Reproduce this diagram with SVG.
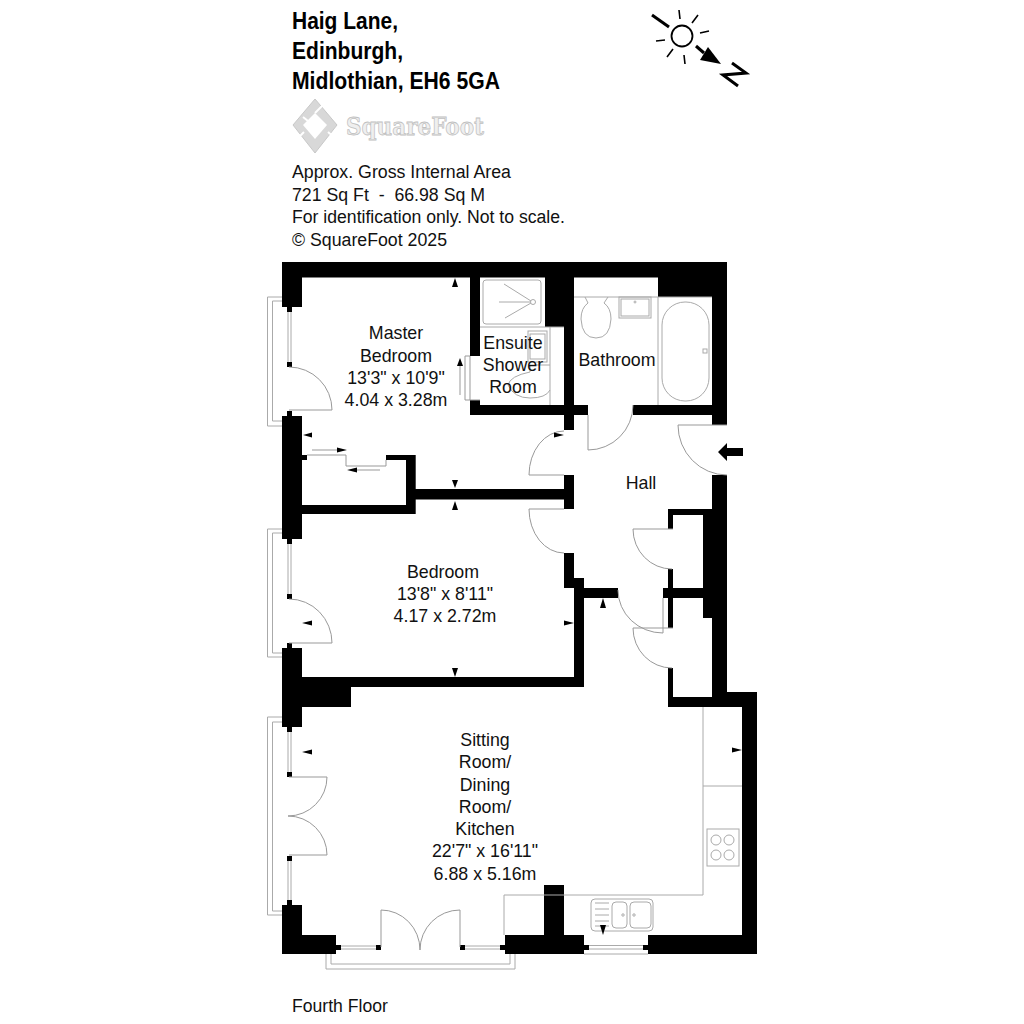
<svg xmlns="http://www.w3.org/2000/svg" width="1024" height="1024" viewBox="0 0 1024 1024">
<style>
text{font-family:"Liberation Sans",Arial,sans-serif;fill:#111}
.t{font-size:23px;font-weight:bold;fill:#000}
.b{font-size:17.6px}
.r{font-size:17.8px;text-anchor:middle}
.w rect{fill:#000}
.l{fill:none;stroke:#aaa;stroke-width:1}
.d{fill:none;stroke:#999;stroke-width:1}
.a{fill:#000}
</style>
<rect width="1024" height="1024" fill="#fff"/>
<g id="header">
<text class="t" x="292" y="29" textLength="106" lengthAdjust="spacingAndGlyphs">Haig Lane,</text>
<text class="t" x="292" y="59" textLength="111" lengthAdjust="spacingAndGlyphs">Edinburgh,</text>
<text class="t" x="292" y="89" textLength="208" lengthAdjust="spacingAndGlyphs">Midlothian, EH6 5GA</text>
<g id="logo">
<path d="M315 99L337 125L315 153L293 125Z" fill="#d8d8d8" stroke="#c8c8c8"/>
<path d="M315 113L327 125L315 139L303 125Z" fill="#fff"/>
<path d="M322 106L315 113M328 132L336 139M304 132L297 139M303 117L308 121" stroke="#fff" stroke-width="2" fill="none"/>
</g>
<text x="346" y="135" font-size="25" font-weight="bold" style="font-family:'DejaVu Serif',serif;fill:#efefef;stroke:#c0c0c0;stroke-width:.8" textLength="138" lengthAdjust="spacingAndGlyphs">SquareFoot</text>
<text class="b" x="292" y="178" textLength="219" lengthAdjust="spacingAndGlyphs">Approx. Gross Internal Area</text>
<text class="b" x="292" y="201" textLength="193" lengthAdjust="spacingAndGlyphs" xml:space="preserve">721 Sq Ft  -  66.98 Sq M</text>
<text class="b" x="292" y="223" textLength="273" lengthAdjust="spacingAndGlyphs">For identification only. Not to scale.</text>
<text class="b" x="292" y="246" textLength="155" lengthAdjust="spacingAndGlyphs">© SquareFoot 2025</text>
</g>
<g id="compass" stroke="#000" fill="none">
<circle cx="682" cy="36" r="10.5" stroke-width="1.8"/>
<path d="M652 15L669 27" stroke-width="3"/>
<path d="M679 10L680 19M698 15L692 23M700 33L709 31M656 41L665 40M667 57L673 49M684 55L685 64" stroke-width="1.6"/>
<path d="M696 46L704 53" stroke-width="3"/>
<path class="a" stroke="none" d="M721 64L700 60L708 47Z"/>
<path d="M732 63L746 73L723 75L738 86" stroke-width="3"/>
</g>
<g id="walls" class="w">
<rect x="282" y="262" width="445" height="15.500"/>
<rect x="282" y="262" width="20" height="45"/>
<rect x="282" y="416" width="20" height="123"/>
<rect x="282" y="648" width="20" height="79"/>
<rect x="282" y="905" width="20" height="49"/>
<rect x="282" y="935" width="54" height="19"/>
<rect x="505" y="935" width="79" height="19"/>
<rect x="648" y="935" width="109" height="19"/>
<rect x="544" y="885" width="20" height="50"/>
<rect x="742" y="692" width="15" height="262"/>
<rect x="712" y="692" width="45" height="15"/>
<rect x="668" y="697" width="60" height="10"/>
<rect x="712" y="262" width="15" height="163"/>
<rect x="712" y="475" width="15" height="220"/>
<rect x="703" y="509" width="15" height="109"/>
<rect x="658" y="262" width="60" height="35"/>
<rect x="668" y="509" width="40" height="6"/>
<rect x="668" y="509" width="5" height="20"/>
<rect x="668" y="569" width="5" height="59"/>
<rect x="663" y="588" width="42" height="10"/>
<rect x="668" y="668" width="5" height="39"/>
<rect x="633" y="405" width="80" height="10"/>
<rect x="470" y="405" width="118" height="10"/>
<rect x="470" y="262" width="10" height="94"/>
<rect x="470" y="400" width="10" height="6"/>
<rect x="564" y="262" width="10" height="168"/>
<rect x="545" y="262" width="29" height="65"/>
<rect x="564" y="475" width="10" height="34"/>
<rect x="415" y="489" width="152" height="10.500"/>
<rect x="406" y="455" width="9.700" height="59"/>
<rect x="386" y="455" width="25" height="5"/>
<rect x="302" y="505" width="113" height="9"/>
<rect x="302" y="455" width="5" height="5"/>
<rect x="564" y="553" width="10" height="35"/>
<rect x="574" y="578" width="10" height="109"/>
<rect x="584" y="588" width="34" height="10"/>
<rect x="302" y="677" width="282" height="10"/>
<rect x="302" y="677" width="49" height="30"/>
<rect x="287" y="307" width="5" height="5"/>
<rect x="287" y="362" width="5" height="5"/>
<rect x="287" y="411" width="5" height="5"/>
<rect x="287" y="539" width="5" height="5"/>
<rect x="287" y="594" width="5" height="5"/>
<rect x="287" y="643" width="5" height="5"/>
<rect x="287" y="727" width="5" height="5"/>
<rect x="287" y="772" width="5" height="5"/>
<rect x="287" y="856" width="5" height="5"/>
<rect x="287" y="900" width="5" height="5"/>
<rect x="336" y="945" width="5" height="5"/>
<rect x="376" y="945" width="5" height="5"/>
<rect x="460" y="945" width="5" height="5"/>
<rect x="500" y="945" width="5" height="5"/>
<rect x="584" y="945" width="5" height="5"/>
<rect x="643" y="945" width="5" height="5"/>
</g>
<g id="windows" class="l">
<path d="M282 297H267.500V426H282M282 301H272.500V421H282M288 312V362M291 312V362"/>
<path d="M282 529H267.500V657H282M282 533H272.500V653H282M288 544V594M291 544V594"/>
<path d="M282 717H267.500V915H282M282 722H272.500V911H282M288 732V772M291 732V772M288 861V900M291 861V900"/>
<path d="M326 954V969H515V954M331 954V964H510V954M341 946H376M341 949H376M465 946H500M465 949H500"/>
<path d="M589 945.500H643M589 949H643M584 954H648"/>
</g>
<g id="doors" class="d">
<path d="M289 367A43 43 0 0 1 332 410H289"/>
<path d="M289 599A43 44 0 0 1 332 643H289"/>
<path d="M289 777H327A39 39 0 0 1 288 816A39 39 0 0 1 327 855H289"/>
<path d="M381 947V910A39 40 0 0 1 420 950A40 40 0 0 1 460 910V947"/>
<path d="M564 431A35 44 0 0 0 529 475H564"/>
<path d="M564 509H529A35 44 0 0 0 564 553"/>
<path d="M588 415V450A45 45 0 0 0 633 405"/>
<path d="M727 425H678A49 50 0 0 0 727 475"/>
<path d="M673 529H633A39 40 0 0 0 672 569"/>
<path d="M673 628H633A39 40 0 0 0 672 668"/>
<path d="M618 590A45 43 0 0 0 663 633V598"/>
<path d="M465 356V400H480M465 356H470M470 356V400"/>
<path d="M307 455H346V466H386V460M312 450H338M355 470H380"/>
<path d="M460 366V395"/>
</g>
<g id="fittings" class="l">
<path d="M480 327H564M550 327V405"/>
<rect x="483" y="280" width="58" height="44" rx="3"/>
<circle cx="533" cy="302" r="2.500"/>
<path d="M531 301L504 284M530 302H499M531 303L505 318"/>
<rect x="528" y="331" width="19" height="31"/>
<rect x="530" y="334" width="15" height="25"/>
<path d="M550 365H530V372Q510 376 508 385Q514 398 530 398Q546 398 550 390"/>
<path d="M574 297H712M658 297V405"/>
<path d="M585 297L588 303Q581 308 581 319Q582 338 596 338Q610 338 611 319Q611 308 604 303L608 297"/>
<rect x="619" y="297" width="32" height="21"/>
<rect x="621" y="299" width="28" height="17"/>
<circle cx="635" cy="302" r="1"/>
<rect x="662" y="302" width="47" height="99" rx="23"/>
<rect x="703" y="349" width="4" height="4"/>
<path d="M703 707V895H504V935M703 786H742"/>
<rect x="707" y="829" width="32" height="37"/>
<circle cx="716" cy="840" r="5"/><circle cx="729" cy="840" r="5"/><circle cx="716" cy="855" r="5"/><circle cx="729" cy="855" r="5"/>
<rect x="591" y="899" width="62" height="32" rx="4"/>
<rect x="612" y="902" width="15" height="26" rx="4"/>
<rect x="630" y="902" width="21" height="26" rx="4"/>
<path d="M595 903H609M595 909H609M595 915H609M595 921H609M595 926H609"/>
<circle cx="623" cy="915" r="1.200"/><circle cx="634" cy="915" r="1.200"/>
</g>
<g id="arrows" class="a">
<path d="M455 278L458 287H452Z"/>
<path d="M303 435L312 432.500V437.500Z"/>
<path d="M347 450L337 447.500V452.500Z"/>
<path d="M347 470L357 467.500V472.500Z"/>
<path d="M460 358L463 366H457Z"/>
<path d="M455 488L452 480H458Z"/>
<path d="M455 501L452 510H458Z"/>
<path d="M455 677L452 668H458Z"/>
<path d="M302 623L312 620.500V625.500Z"/>
<path d="M603 598L606 608H600Z"/>
<path d="M574 623L564 620.500V625.500Z"/>
<path d="M564 435L554 432.500V437.500Z"/>
<path d="M302 752L312 749.500V754.500Z"/>
<path d="M742 750L732 747.500V752.500Z"/>
<path d="M603 935L600 925H606Z"/>
<path d="M718 452L727 443V448H743V456H727V461Z"/>
</g>
<g id="room-master-bedroom"><text class="r" x="396" y="339">Master</text><text class="r" x="396" y="362">Bedroom</text><text class="r" x="396" y="384">13'3" x 10'9"</text><text class="r" x="396" y="406">4.04 x 3.28m</text></g>
<g id="room-ensuite"><text class="r" x="513" y="349">Ensuite</text><text class="r" x="513" y="371">Shower</text><text class="r" x="513" y="393">Room</text></g>
<g id="room-bathroom"><text class="r" x="617" y="366">Bathroom</text></g>
<g id="room-hall"><text class="r" x="641" y="489">Hall</text></g>
<g id="room-bedroom"><text class="r" x="443" y="578">Bedroom</text><text class="r" x="445" y="600">13'8" x 8'11"</text><text class="r" x="445" y="622">4.17 x 2.72m</text></g>
<g id="room-sitting"><text class="r" x="485" y="746">Sitting</text><text class="r" x="485" y="768">Room/</text><text class="r" x="485" y="791">Dining</text><text class="r" x="485" y="813">Room/</text><text class="r" x="485" y="835">Kitchen</text><text class="r" x="485" y="857">22'7" x 16'11"</text><text class="r" x="485" y="880">6.88 x 5.16m</text></g>
<text class="b" x="292" y="1012">Fourth Floor</text>
</svg>
